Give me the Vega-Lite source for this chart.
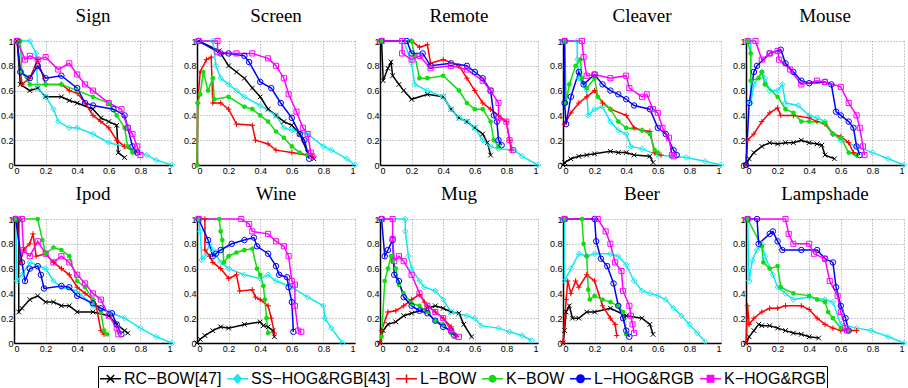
{
"$schema": "https://vega.github.io/schema/vega-lite/v6.json",
"padding": {"left": 0, "top": 7, "right": 4, "bottom": 0},
"config": {
  "view": {"stroke": null},
  "font": "Liberation Sans",
  "axis": {"grid": true, "gridDash": [1, 2], "gridColor": "#999", "domainColor": "black", "domainWidth": 1.5, "ticks": false, "labelFont": "Liberation Sans", "labelFontSize": 9, "labelColor": "black", "labelPadding": 1, "title": null, "values": [0, 0.2, 0.4, 0.6, 0.8, 1], "labelExpr": "'' + datum.value"},
  "header": {"labelFont": "Liberation Serif", "labelFontSize": 19, "labelColor": "black", "labelPadding": 10, "title": null}
},
"data": {"values": [
{"p":"Sign","s":"A","r":0.02,"v":1},{"p":"Sign","s":"A","r":0.04,"v":0.65},{"p":"Sign","s":"A","r":0.1,"v":0.6},{"p":"Sign","s":"A","r":0.15,"v":0.62},{"p":"Sign","s":"A","r":0.2,"v":0.55},{"p":"Sign","s":"A","r":0.3,"v":0.55},{"p":"Sign","s":"A","r":0.35,"v":0.52},{"p":"Sign","s":"A","r":0.4,"v":0.5},{"p":"Sign","s":"A","r":0.5,"v":0.45},{"p":"Sign","s":"A","r":0.55,"v":0.38},{"p":"Sign","s":"A","r":0.6,"v":0.35},{"p":"Sign","s":"A","r":0.65,"v":0.32},{"p":"Sign","s":"A","r":0.66,"v":0.1},{"p":"Sign","s":"A","r":0.7,"v":0.06},
{"p":"Sign","s":"B","r":0.01,"v":1},{"p":"Sign","s":"B","r":0.1,"v":1},{"p":"Sign","s":"B","r":0.14,"v":0.9},{"p":"Sign","s":"B","r":0.15,"v":0.62},{"p":"Sign","s":"B","r":0.2,"v":0.55},{"p":"Sign","s":"B","r":0.25,"v":0.45},{"p":"Sign","s":"B","r":0.28,"v":0.35},{"p":"Sign","s":"B","r":0.35,"v":0.3},{"p":"Sign","s":"B","r":0.4,"v":0.3},{"p":"Sign","s":"B","r":0.5,"v":0.25},{"p":"Sign","s":"B","r":0.6,"v":0.18},{"p":"Sign","s":"B","r":0.7,"v":0.15},{"p":"Sign","s":"B","r":0.8,"v":0.1},{"p":"Sign","s":"B","r":0.84,"v":0.08},{"p":"Sign","s":"B","r":0.9,"v":0.04},{"p":"Sign","s":"B","r":1,"v":0},
{"p":"Sign","s":"C","r":0.02,"v":1},{"p":"Sign","s":"C","r":0.05,"v":0.65},{"p":"Sign","s":"C","r":0.1,"v":0.7},{"p":"Sign","s":"C","r":0.15,"v":0.85},{"p":"Sign","s":"C","r":0.2,"v":0.65},{"p":"Sign","s":"C","r":0.3,"v":0.65},{"p":"Sign","s":"C","r":0.35,"v":0.6},{"p":"Sign","s":"C","r":0.4,"v":0.58},{"p":"Sign","s":"C","r":0.45,"v":0.5},{"p":"Sign","s":"C","r":0.5,"v":0.4},{"p":"Sign","s":"C","r":0.55,"v":0.35},{"p":"Sign","s":"C","r":0.6,"v":0.3},{"p":"Sign","s":"C","r":0.65,"v":0.2},{"p":"Sign","s":"C","r":0.7,"v":0.15},{"p":"Sign","s":"C","r":0.77,"v":0.1},
{"p":"Sign","s":"D","r":0.04,"v":1},{"p":"Sign","s":"D","r":0.05,"v":0.75},{"p":"Sign","s":"D","r":0.1,"v":0.65},{"p":"Sign","s":"D","r":0.2,"v":0.65},{"p":"Sign","s":"D","r":0.3,"v":0.65},{"p":"Sign","s":"D","r":0.4,"v":0.6},{"p":"Sign","s":"D","r":0.5,"v":0.55},{"p":"Sign","s":"D","r":0.6,"v":0.5},{"p":"Sign","s":"D","r":0.65,"v":0.4},{"p":"Sign","s":"D","r":0.7,"v":0.3},{"p":"Sign","s":"D","r":0.72,"v":0.15},{"p":"Sign","s":"D","r":0.75,"v":0.1},
{"p":"Sign","s":"E","r":0.02,"v":1},{"p":"Sign","s":"E","r":0.04,"v":0.75},{"p":"Sign","s":"E","r":0.1,"v":0.7},{"p":"Sign","s":"E","r":0.15,"v":0.8},{"p":"Sign","s":"E","r":0.2,"v":0.7},{"p":"Sign","s":"E","r":0.3,"v":0.72},{"p":"Sign","s":"E","r":0.4,"v":0.62},{"p":"Sign","s":"E","r":0.45,"v":0.5},{"p":"Sign","s":"E","r":0.5,"v":0.48},{"p":"Sign","s":"E","r":0.63,"v":0.45},{"p":"Sign","s":"E","r":0.7,"v":0.4},{"p":"Sign","s":"E","r":0.72,"v":0.3},{"p":"Sign","s":"E","r":0.75,"v":0.15},{"p":"Sign","s":"E","r":0.78,"v":0.1},
{"p":"Sign","s":"F","r":0.02,"v":1},{"p":"Sign","s":"F","r":0.07,"v":0.85},{"p":"Sign","s":"F","r":0.1,"v":0.88},{"p":"Sign","s":"F","r":0.15,"v":0.85},{"p":"Sign","s":"F","r":0.2,"v":0.87},{"p":"Sign","s":"F","r":0.28,"v":0.77},{"p":"Sign","s":"F","r":0.35,"v":0.82},{"p":"Sign","s":"F","r":0.4,"v":0.73},{"p":"Sign","s":"F","r":0.45,"v":0.65},{"p":"Sign","s":"F","r":0.5,"v":0.6},{"p":"Sign","s":"F","r":0.6,"v":0.5},{"p":"Sign","s":"F","r":0.68,"v":0.45},{"p":"Sign","s":"F","r":0.72,"v":0.3},{"p":"Sign","s":"F","r":0.75,"v":0.25},{"p":"Sign","s":"F","r":0.78,"v":0.15},{"p":"Sign","s":"F","r":0.8,"v":0.08},

{"p":"Screen","s":"A","r":0.01,"v":1},{"p":"Screen","s":"A","r":0.14,"v":0.92},{"p":"Screen","s":"A","r":0.2,"v":0.8},{"p":"Screen","s":"A","r":0.25,"v":0.75},{"p":"Screen","s":"A","r":0.3,"v":0.7},{"p":"Screen","s":"A","r":0.35,"v":0.62},{"p":"Screen","s":"A","r":0.4,"v":0.55},{"p":"Screen","s":"A","r":0.45,"v":0.45},{"p":"Screen","s":"A","r":0.5,"v":0.4},{"p":"Screen","s":"A","r":0.55,"v":0.35},{"p":"Screen","s":"A","r":0.6,"v":0.32},{"p":"Screen","s":"A","r":0.65,"v":0.25},{"p":"Screen","s":"A","r":0.7,"v":0.1},{"p":"Screen","s":"A","r":0.74,"v":0.05},
{"p":"Screen","s":"B","r":0.01,"v":1},{"p":"Screen","s":"B","r":0.1,"v":1},{"p":"Screen","s":"B","r":0.12,"v":0.8},{"p":"Screen","s":"B","r":0.15,"v":0.7},{"p":"Screen","s":"B","r":0.2,"v":0.65},{"p":"Screen","s":"B","r":0.25,"v":0.6},{"p":"Screen","s":"B","r":0.3,"v":0.55},{"p":"Screen","s":"B","r":0.4,"v":0.48},{"p":"Screen","s":"B","r":0.5,"v":0.4},{"p":"Screen","s":"B","r":0.55,"v":0.3},{"p":"Screen","s":"B","r":0.6,"v":0.28},{"p":"Screen","s":"B","r":0.7,"v":0.25},{"p":"Screen","s":"B","r":0.8,"v":0.15},{"p":"Screen","s":"B","r":0.85,"v":0.12},{"p":"Screen","s":"B","r":0.95,"v":0.05},{"p":"Screen","s":"B","r":1,"v":0},
{"p":"Screen","s":"C","r":0,"v":0},{"p":"Screen","s":"C","r":0.005,"v":0.5},{"p":"Screen","s":"C","r":0.02,"v":0.75},{"p":"Screen","s":"C","r":0.06,"v":0.85},{"p":"Screen","s":"C","r":0.09,"v":0.87},{"p":"Screen","s":"C","r":0.1,"v":0.5},{"p":"Screen","s":"C","r":0.15,"v":0.5},{"p":"Screen","s":"C","r":0.2,"v":0.45},{"p":"Screen","s":"C","r":0.25,"v":0.33},{"p":"Screen","s":"C","r":0.35,"v":0.32},{"p":"Screen","s":"C","r":0.37,"v":0.2},{"p":"Screen","s":"C","r":0.45,"v":0.17},{"p":"Screen","s":"C","r":0.5,"v":0.12},{"p":"Screen","s":"C","r":0.6,"v":0.1},{"p":"Screen","s":"C","r":0.73,"v":0.07},
{"p":"Screen","s":"D","r":0,"v":0},{"p":"Screen","s":"D","r":0.005,"v":0.5},{"p":"Screen","s":"D","r":0.02,"v":0.57},{"p":"Screen","s":"D","r":0.04,"v":0.75},{"p":"Screen","s":"D","r":0.07,"v":0.6},{"p":"Screen","s":"D","r":0.1,"v":0.7},{"p":"Screen","s":"D","r":0.11,"v":0.53},{"p":"Screen","s":"D","r":0.2,"v":0.55},{"p":"Screen","s":"D","r":0.3,"v":0.47},{"p":"Screen","s":"D","r":0.35,"v":0.45},{"p":"Screen","s":"D","r":0.4,"v":0.4},{"p":"Screen","s":"D","r":0.45,"v":0.35},{"p":"Screen","s":"D","r":0.5,"v":0.27},{"p":"Screen","s":"D","r":0.55,"v":0.22},{"p":"Screen","s":"D","r":0.6,"v":0.15},{"p":"Screen","s":"D","r":0.65,"v":0.1},{"p":"Screen","s":"D","r":0.7,"v":0.08},
{"p":"Screen","s":"E","r":0.01,"v":1},{"p":"Screen","s":"E","r":0.15,"v":0.9},{"p":"Screen","s":"E","r":0.2,"v":0.9},{"p":"Screen","s":"E","r":0.3,"v":0.88},{"p":"Screen","s":"E","r":0.33,"v":0.83},{"p":"Screen","s":"E","r":0.4,"v":0.67},{"p":"Screen","s":"E","r":0.47,"v":0.62},{"p":"Screen","s":"E","r":0.53,"v":0.5},{"p":"Screen","s":"E","r":0.6,"v":0.38},{"p":"Screen","s":"E","r":0.65,"v":0.25},{"p":"Screen","s":"E","r":0.68,"v":0.2},{"p":"Screen","s":"E","r":0.71,"v":0.05},
{"p":"Screen","s":"F","r":0.01,"v":1},{"p":"Screen","s":"F","r":0.13,"v":1},{"p":"Screen","s":"F","r":0.13,"v":0.91},{"p":"Screen","s":"F","r":0.25,"v":0.9},{"p":"Screen","s":"F","r":0.35,"v":0.9},{"p":"Screen","s":"F","r":0.45,"v":0.86},{"p":"Screen","s":"F","r":0.5,"v":0.8},{"p":"Screen","s":"F","r":0.55,"v":0.7},{"p":"Screen","s":"F","r":0.58,"v":0.57},{"p":"Screen","s":"F","r":0.63,"v":0.43},{"p":"Screen","s":"F","r":0.67,"v":0.3},{"p":"Screen","s":"F","r":0.7,"v":0.25},{"p":"Screen","s":"F","r":0.72,"v":0.1},{"p":"Screen","s":"F","r":0.73,"v":0.07},

{"p":"Remote","s":"A","r":0.01,"v":1},{"p":"Remote","s":"A","r":0.02,"v":0.68},{"p":"Remote","s":"A","r":0.05,"v":0.78},{"p":"Remote","s":"A","r":0.07,"v":0.83},{"p":"Remote","s":"A","r":0.08,"v":0.72},{"p":"Remote","s":"A","r":0.12,"v":0.65},{"p":"Remote","s":"A","r":0.15,"v":0.6},{"p":"Remote","s":"A","r":0.2,"v":0.53},{"p":"Remote","s":"A","r":0.3,"v":0.57},{"p":"Remote","s":"A","r":0.4,"v":0.55},{"p":"Remote","s":"A","r":0.45,"v":0.45},{"p":"Remote","s":"A","r":0.5,"v":0.38},{"p":"Remote","s":"A","r":0.55,"v":0.35},{"p":"Remote","s":"A","r":0.6,"v":0.3},{"p":"Remote","s":"A","r":0.65,"v":0.25},{"p":"Remote","s":"A","r":0.68,"v":0.18},{"p":"Remote","s":"A","r":0.7,"v":0.08},
{"p":"Remote","s":"B","r":0.01,"v":1},{"p":"Remote","s":"B","r":0.15,"v":1},{"p":"Remote","s":"B","r":0.2,"v":0.82},{"p":"Remote","s":"B","r":0.22,"v":0.65},{"p":"Remote","s":"B","r":0.3,"v":0.6},{"p":"Remote","s":"B","r":0.4,"v":0.55},{"p":"Remote","s":"B","r":0.45,"v":0.45},{"p":"Remote","s":"B","r":0.5,"v":0.38},{"p":"Remote","s":"B","r":0.55,"v":0.35},{"p":"Remote","s":"B","r":0.6,"v":0.3},{"p":"Remote","s":"B","r":0.65,"v":0.2},{"p":"Remote","s":"B","r":0.7,"v":0.15},{"p":"Remote","s":"B","r":0.75,"v":0.13},{"p":"Remote","s":"B","r":0.85,"v":0.12},{"p":"Remote","s":"B","r":0.9,"v":0.07},{"p":"Remote","s":"B","r":1,"v":0},
{"p":"Remote","s":"C","r":0.01,"v":1},{"p":"Remote","s":"C","r":0.2,"v":1},{"p":"Remote","s":"C","r":0.25,"v":0.95},{"p":"Remote","s":"C","r":0.3,"v":0.97},{"p":"Remote","s":"C","r":0.32,"v":0.82},{"p":"Remote","s":"C","r":0.4,"v":0.85},{"p":"Remote","s":"C","r":0.5,"v":0.8},{"p":"Remote","s":"C","r":0.55,"v":0.7},{"p":"Remote","s":"C","r":0.6,"v":0.6},{"p":"Remote","s":"C","r":0.65,"v":0.5},{"p":"Remote","s":"C","r":0.7,"v":0.45},{"p":"Remote","s":"C","r":0.75,"v":0.4},{"p":"Remote","s":"C","r":0.8,"v":0.35},{"p":"Remote","s":"C","r":0.82,"v":0.2},{"p":"Remote","s":"C","r":0.83,"v":0.12},
{"p":"Remote","s":"D","r":0.01,"v":1},{"p":"Remote","s":"D","r":0.2,"v":1},{"p":"Remote","s":"D","r":0.22,"v":0.88},{"p":"Remote","s":"D","r":0.25,"v":0.7},{"p":"Remote","s":"D","r":0.3,"v":0.7},{"p":"Remote","s":"D","r":0.4,"v":0.72},{"p":"Remote","s":"D","r":0.5,"v":0.6},{"p":"Remote","s":"D","r":0.55,"v":0.5},{"p":"Remote","s":"D","r":0.6,"v":0.45},{"p":"Remote","s":"D","r":0.65,"v":0.45},{"p":"Remote","s":"D","r":0.7,"v":0.35},{"p":"Remote","s":"D","r":0.72,"v":0.2},{"p":"Remote","s":"D","r":0.75,"v":0.15},
{"p":"Remote","s":"E","r":0.01,"v":1},{"p":"Remote","s":"E","r":0.17,"v":1},{"p":"Remote","s":"E","r":0.2,"v":0.9},{"p":"Remote","s":"E","r":0.27,"v":0.9},{"p":"Remote","s":"E","r":0.32,"v":0.8},{"p":"Remote","s":"E","r":0.45,"v":0.82},{"p":"Remote","s":"E","r":0.55,"v":0.8},{"p":"Remote","s":"E","r":0.6,"v":0.75},{"p":"Remote","s":"E","r":0.65,"v":0.7},{"p":"Remote","s":"E","r":0.7,"v":0.6},{"p":"Remote","s":"E","r":0.72,"v":0.4},{"p":"Remote","s":"E","r":0.74,"v":0.35},{"p":"Remote","s":"E","r":0.75,"v":0.2},{"p":"Remote","s":"E","r":0.77,"v":0.16},
{"p":"Remote","s":"F","r":0.01,"v":1},{"p":"Remote","s":"F","r":0.14,"v":1},{"p":"Remote","s":"F","r":0.14,"v":0.9},{"p":"Remote","s":"F","r":0.2,"v":0.85},{"p":"Remote","s":"F","r":0.25,"v":0.88},{"p":"Remote","s":"F","r":0.32,"v":0.78},{"p":"Remote","s":"F","r":0.45,"v":0.8},{"p":"Remote","s":"F","r":0.55,"v":0.77},{"p":"Remote","s":"F","r":0.65,"v":0.68},{"p":"Remote","s":"F","r":0.7,"v":0.6},{"p":"Remote","s":"F","r":0.75,"v":0.5},{"p":"Remote","s":"F","r":0.75,"v":0.38},{"p":"Remote","s":"F","r":0.8,"v":0.35},{"p":"Remote","s":"F","r":0.82,"v":0.2},{"p":"Remote","s":"F","r":0.84,"v":0.12},

{"p":"Cleaver","s":"A","r":0,"v":0},{"p":"Cleaver","s":"A","r":0.01,"v":0.02},{"p":"Cleaver","s":"A","r":0.05,"v":0.05},{"p":"Cleaver","s":"A","r":0.1,"v":0.07},{"p":"Cleaver","s":"A","r":0.15,"v":0.08},{"p":"Cleaver","s":"A","r":0.2,"v":0.09},{"p":"Cleaver","s":"A","r":0.3,"v":0.11},{"p":"Cleaver","s":"A","r":0.35,"v":0.1},{"p":"Cleaver","s":"A","r":0.4,"v":0.1},{"p":"Cleaver","s":"A","r":0.45,"v":0.08},{"p":"Cleaver","s":"A","r":0.55,"v":0.07},{"p":"Cleaver","s":"A","r":0.57,"v":0.02},
{"p":"Cleaver","s":"B","r":0.01,"v":1},{"p":"Cleaver","s":"B","r":0.09,"v":1},{"p":"Cleaver","s":"B","r":0.09,"v":0.85},{"p":"Cleaver","s":"B","r":0.1,"v":0.7},{"p":"Cleaver","s":"B","r":0.15,"v":0.6},{"p":"Cleaver","s":"B","r":0.16,"v":0.4},{"p":"Cleaver","s":"B","r":0.2,"v":0.45},{"p":"Cleaver","s":"B","r":0.25,"v":0.47},{"p":"Cleaver","s":"B","r":0.3,"v":0.35},{"p":"Cleaver","s":"B","r":0.35,"v":0.28},{"p":"Cleaver","s":"B","r":0.4,"v":0.25},{"p":"Cleaver","s":"B","r":0.43,"v":0.15},{"p":"Cleaver","s":"B","r":0.5,"v":0.13},{"p":"Cleaver","s":"B","r":0.6,"v":0.08},{"p":"Cleaver","s":"B","r":0.78,"v":0.06},{"p":"Cleaver","s":"B","r":0.9,"v":0.03},{"p":"Cleaver","s":"B","r":1,"v":0},
{"p":"Cleaver","s":"C","r":0.01,"v":0.33},{"p":"Cleaver","s":"C","r":0.05,"v":0.42},{"p":"Cleaver","s":"C","r":0.1,"v":0.5},{"p":"Cleaver","s":"C","r":0.15,"v":0.55},{"p":"Cleaver","s":"C","r":0.2,"v":0.6},{"p":"Cleaver","s":"C","r":0.25,"v":0.5},{"p":"Cleaver","s":"C","r":0.3,"v":0.45},{"p":"Cleaver","s":"C","r":0.4,"v":0.4},{"p":"Cleaver","s":"C","r":0.45,"v":0.3},{"p":"Cleaver","s":"C","r":0.5,"v":0.28},{"p":"Cleaver","s":"C","r":0.55,"v":0.27},{"p":"Cleaver","s":"C","r":0.58,"v":0.1},{"p":"Cleaver","s":"C","r":0.62,"v":0.08},
{"p":"Cleaver","s":"D","r":0.01,"v":1},{"p":"Cleaver","s":"D","r":0.02,"v":0.5},{"p":"Cleaver","s":"D","r":0.04,"v":0.65},{"p":"Cleaver","s":"D","r":0.08,"v":0.8},{"p":"Cleaver","s":"D","r":0.11,"v":0.85},{"p":"Cleaver","s":"D","r":0.12,"v":0.7},{"p":"Cleaver","s":"D","r":0.15,"v":0.62},{"p":"Cleaver","s":"D","r":0.2,"v":0.7},{"p":"Cleaver","s":"D","r":0.22,"v":0.55},{"p":"Cleaver","s":"D","r":0.3,"v":0.45},{"p":"Cleaver","s":"D","r":0.35,"v":0.35},{"p":"Cleaver","s":"D","r":0.4,"v":0.3},{"p":"Cleaver","s":"D","r":0.5,"v":0.28},{"p":"Cleaver","s":"D","r":0.55,"v":0.25},{"p":"Cleaver","s":"D","r":0.58,"v":0.12},{"p":"Cleaver","s":"D","r":0.6,"v":0.1},
{"p":"Cleaver","s":"E","r":0.01,"v":1},{"p":"Cleaver","s":"E","r":0.01,"v":0.5},{"p":"Cleaver","s":"E","r":0.02,"v":0.33},{"p":"Cleaver","s":"E","r":0.05,"v":0.55},{"p":"Cleaver","s":"E","r":0.1,"v":0.75},{"p":"Cleaver","s":"E","r":0.13,"v":0.65},{"p":"Cleaver","s":"E","r":0.2,"v":0.73},{"p":"Cleaver","s":"E","r":0.25,"v":0.65},{"p":"Cleaver","s":"E","r":0.3,"v":0.6},{"p":"Cleaver","s":"E","r":0.35,"v":0.57},{"p":"Cleaver","s":"E","r":0.4,"v":0.53},{"p":"Cleaver","s":"E","r":0.45,"v":0.48},{"p":"Cleaver","s":"E","r":0.55,"v":0.45},{"p":"Cleaver","s":"E","r":0.6,"v":0.3},{"p":"Cleaver","s":"E","r":0.65,"v":0.25},{"p":"Cleaver","s":"E","r":0.7,"v":0.12},{"p":"Cleaver","s":"E","r":0.72,"v":0.08},
{"p":"Cleaver","s":"F","r":0.01,"v":1},{"p":"Cleaver","s":"F","r":0.12,"v":1},{"p":"Cleaver","s":"F","r":0.13,"v":0.87},{"p":"Cleaver","s":"F","r":0.15,"v":0.72},{"p":"Cleaver","s":"F","r":0.2,"v":0.73},{"p":"Cleaver","s":"F","r":0.3,"v":0.7},{"p":"Cleaver","s":"F","r":0.4,"v":0.72},{"p":"Cleaver","s":"F","r":0.42,"v":0.62},{"p":"Cleaver","s":"F","r":0.5,"v":0.55},{"p":"Cleaver","s":"F","r":0.53,"v":0.57},{"p":"Cleaver","s":"F","r":0.57,"v":0.45},{"p":"Cleaver","s":"F","r":0.6,"v":0.42},{"p":"Cleaver","s":"F","r":0.63,"v":0.3},{"p":"Cleaver","s":"F","r":0.67,"v":0.22},{"p":"Cleaver","s":"F","r":0.69,"v":0.08},{"p":"Cleaver","s":"F","r":0.7,"v":0.07},

{"p":"Mouse","s":"A","r":0,"v":0},{"p":"Mouse","s":"A","r":0.02,"v":0.05},{"p":"Mouse","s":"A","r":0.05,"v":0.1},{"p":"Mouse","s":"A","r":0.1,"v":0.15},{"p":"Mouse","s":"A","r":0.15,"v":0.18},{"p":"Mouse","s":"A","r":0.2,"v":0.17},{"p":"Mouse","s":"A","r":0.25,"v":0.18},{"p":"Mouse","s":"A","r":0.3,"v":0.18},{"p":"Mouse","s":"A","r":0.35,"v":0.2},{"p":"Mouse","s":"A","r":0.4,"v":0.18},{"p":"Mouse","s":"A","r":0.45,"v":0.17},{"p":"Mouse","s":"A","r":0.48,"v":0.16},{"p":"Mouse","s":"A","r":0.5,"v":0.08},{"p":"Mouse","s":"A","r":0.56,"v":0.05},
{"p":"Mouse","s":"B","r":0.01,"v":1},{"p":"Mouse","s":"B","r":0.03,"v":1},{"p":"Mouse","s":"B","r":0.03,"v":0.5},{"p":"Mouse","s":"B","r":0.05,"v":0.65},{"p":"Mouse","s":"B","r":0.1,"v":0.75},{"p":"Mouse","s":"B","r":0.12,"v":0.7},{"p":"Mouse","s":"B","r":0.15,"v":0.6},{"p":"Mouse","s":"B","r":0.2,"v":0.6},{"p":"Mouse","s":"B","r":0.23,"v":0.65},{"p":"Mouse","s":"B","r":0.25,"v":0.5},{"p":"Mouse","s":"B","r":0.33,"v":0.48},{"p":"Mouse","s":"B","r":0.4,"v":0.4},{"p":"Mouse","s":"B","r":0.45,"v":0.38},{"p":"Mouse","s":"B","r":0.5,"v":0.35},{"p":"Mouse","s":"B","r":0.55,"v":0.25},{"p":"Mouse","s":"B","r":0.6,"v":0.2},{"p":"Mouse","s":"B","r":0.7,"v":0.15},{"p":"Mouse","s":"B","r":0.8,"v":0.1},{"p":"Mouse","s":"B","r":0.9,"v":0.05},{"p":"Mouse","s":"B","r":1,"v":0},
{"p":"Mouse","s":"C","r":0,"v":0},{"p":"Mouse","s":"C","r":0.01,"v":0.2},{"p":"Mouse","s":"C","r":0.05,"v":0.25},{"p":"Mouse","s":"C","r":0.1,"v":0.35},{"p":"Mouse","s":"C","r":0.15,"v":0.42},{"p":"Mouse","s":"C","r":0.2,"v":0.46},{"p":"Mouse","s":"C","r":0.22,"v":0.4},{"p":"Mouse","s":"C","r":0.3,"v":0.4},{"p":"Mouse","s":"C","r":0.4,"v":0.38},{"p":"Mouse","s":"C","r":0.45,"v":0.35},{"p":"Mouse","s":"C","r":0.5,"v":0.33},{"p":"Mouse","s":"C","r":0.55,"v":0.25},{"p":"Mouse","s":"C","r":0.6,"v":0.23},{"p":"Mouse","s":"C","r":0.65,"v":0.18},{"p":"Mouse","s":"C","r":0.68,"v":0.1},{"p":"Mouse","s":"C","r":0.7,"v":0.08},
{"p":"Mouse","s":"D","r":0.01,"v":1},{"p":"Mouse","s":"D","r":0.03,"v":0.9},{"p":"Mouse","s":"D","r":0.03,"v":0.68},{"p":"Mouse","s":"D","r":0.08,"v":0.7},{"p":"Mouse","s":"D","r":0.1,"v":0.75},{"p":"Mouse","s":"D","r":0.12,"v":0.65},{"p":"Mouse","s":"D","r":0.2,"v":0.55},{"p":"Mouse","s":"D","r":0.25,"v":0.45},{"p":"Mouse","s":"D","r":0.3,"v":0.42},{"p":"Mouse","s":"D","r":0.35,"v":0.35},{"p":"Mouse","s":"D","r":0.4,"v":0.35},{"p":"Mouse","s":"D","r":0.5,"v":0.34},{"p":"Mouse","s":"D","r":0.55,"v":0.25},{"p":"Mouse","s":"D","r":0.6,"v":0.22},{"p":"Mouse","s":"D","r":0.65,"v":0.1},{"p":"Mouse","s":"D","r":0.7,"v":0.08},
{"p":"Mouse","s":"E","r":0,"v":0},{"p":"Mouse","s":"E","r":0.02,"v":0.5},{"p":"Mouse","s":"E","r":0.05,"v":0.75},{"p":"Mouse","s":"E","r":0.07,"v":0.8},{"p":"Mouse","s":"E","r":0.15,"v":0.9},{"p":"Mouse","s":"E","r":0.22,"v":0.93},{"p":"Mouse","s":"E","r":0.25,"v":0.82},{"p":"Mouse","s":"E","r":0.3,"v":0.75},{"p":"Mouse","s":"E","r":0.35,"v":0.68},{"p":"Mouse","s":"E","r":0.4,"v":0.66},{"p":"Mouse","s":"E","r":0.5,"v":0.67},{"p":"Mouse","s":"E","r":0.54,"v":0.65},{"p":"Mouse","s":"E","r":0.57,"v":0.43},{"p":"Mouse","s":"E","r":0.6,"v":0.4},{"p":"Mouse","s":"E","r":0.65,"v":0.35},{"p":"Mouse","s":"E","r":0.68,"v":0.3},{"p":"Mouse","s":"E","r":0.7,"v":0.15},{"p":"Mouse","s":"E","r":0.72,"v":0.08},
{"p":"Mouse","s":"F","r":0.01,"v":1},{"p":"Mouse","s":"F","r":0.06,"v":1},{"p":"Mouse","s":"F","r":0.1,"v":0.85},{"p":"Mouse","s":"F","r":0.15,"v":0.9},{"p":"Mouse","s":"F","r":0.2,"v":0.92},{"p":"Mouse","s":"F","r":0.21,"v":0.85},{"p":"Mouse","s":"F","r":0.28,"v":0.77},{"p":"Mouse","s":"F","r":0.35,"v":0.65},{"p":"Mouse","s":"F","r":0.45,"v":0.68},{"p":"Mouse","s":"F","r":0.5,"v":0.67},{"p":"Mouse","s":"F","r":0.6,"v":0.63},{"p":"Mouse","s":"F","r":0.65,"v":0.5},{"p":"Mouse","s":"F","r":0.7,"v":0.4},{"p":"Mouse","s":"F","r":0.72,"v":0.3},{"p":"Mouse","s":"F","r":0.74,"v":0.15},{"p":"Mouse","s":"F","r":0.75,"v":0.08},

{"p":"Ipod","s":"A","r":0.03,"v":1},{"p":"Ipod","s":"A","r":0.03,"v":0.25},{"p":"Ipod","s":"A","r":0.05,"v":0.28},{"p":"Ipod","s":"A","r":0.1,"v":0.35},{"p":"Ipod","s":"A","r":0.15,"v":0.38},{"p":"Ipod","s":"A","r":0.2,"v":0.33},{"p":"Ipod","s":"A","r":0.25,"v":0.33},{"p":"Ipod","s":"A","r":0.3,"v":0.3},{"p":"Ipod","s":"A","r":0.35,"v":0.3},{"p":"Ipod","s":"A","r":0.4,"v":0.25},{"p":"Ipod","s":"A","r":0.5,"v":0.25},{"p":"Ipod","s":"A","r":0.6,"v":0.22},{"p":"Ipod","s":"A","r":0.65,"v":0.15},{"p":"Ipod","s":"A","r":0.7,"v":0.1},{"p":"Ipod","s":"A","r":0.72,"v":0.08},
{"p":"Ipod","s":"B","r":0.01,"v":1},{"p":"Ipod","s":"B","r":0.02,"v":0.5},{"p":"Ipod","s":"B","r":0.05,"v":0.55},{"p":"Ipod","s":"B","r":0.1,"v":0.65},{"p":"Ipod","s":"B","r":0.2,"v":0.6},{"p":"Ipod","s":"B","r":0.25,"v":0.5},{"p":"Ipod","s":"B","r":0.3,"v":0.45},{"p":"Ipod","s":"B","r":0.4,"v":0.42},{"p":"Ipod","s":"B","r":0.5,"v":0.3},{"p":"Ipod","s":"B","r":0.6,"v":0.25},{"p":"Ipod","s":"B","r":0.7,"v":0.2},{"p":"Ipod","s":"B","r":0.8,"v":0.12},{"p":"Ipod","s":"B","r":0.9,"v":0.05},{"p":"Ipod","s":"B","r":1,"v":0},
{"p":"Ipod","s":"C","r":0.02,"v":1},{"p":"Ipod","s":"C","r":0.04,"v":0.65},{"p":"Ipod","s":"C","r":0.06,"v":0.75},{"p":"Ipod","s":"C","r":0.1,"v":0.8},{"p":"Ipod","s":"C","r":0.12,"v":0.88},{"p":"Ipod","s":"C","r":0.14,"v":0.7},{"p":"Ipod","s":"C","r":0.2,"v":0.72},{"p":"Ipod","s":"C","r":0.25,"v":0.65},{"p":"Ipod","s":"C","r":0.3,"v":0.6},{"p":"Ipod","s":"C","r":0.35,"v":0.55},{"p":"Ipod","s":"C","r":0.4,"v":0.45},{"p":"Ipod","s":"C","r":0.45,"v":0.4},{"p":"Ipod","s":"C","r":0.5,"v":0.35},{"p":"Ipod","s":"C","r":0.52,"v":0.3},{"p":"Ipod","s":"C","r":0.55,"v":0.1},{"p":"Ipod","s":"C","r":0.57,"v":0.07},
{"p":"Ipod","s":"D","r":0.01,"v":1},{"p":"Ipod","s":"D","r":0.15,"v":1},{"p":"Ipod","s":"D","r":0.18,"v":0.83},{"p":"Ipod","s":"D","r":0.2,"v":0.72},{"p":"Ipod","s":"D","r":0.25,"v":0.77},{"p":"Ipod","s":"D","r":0.3,"v":0.75},{"p":"Ipod","s":"D","r":0.35,"v":0.7},{"p":"Ipod","s":"D","r":0.4,"v":0.5},{"p":"Ipod","s":"D","r":0.45,"v":0.45},{"p":"Ipod","s":"D","r":0.5,"v":0.35},{"p":"Ipod","s":"D","r":0.55,"v":0.25},{"p":"Ipod","s":"D","r":0.57,"v":0.1},{"p":"Ipod","s":"D","r":0.59,"v":0.07},
{"p":"Ipod","s":"E","r":0.01,"v":1},{"p":"Ipod","s":"E","r":0.05,"v":0.65},{"p":"Ipod","s":"E","r":0.07,"v":0.5},{"p":"Ipod","s":"E","r":0.1,"v":0.6},{"p":"Ipod","s":"E","r":0.15,"v":0.62},{"p":"Ipod","s":"E","r":0.17,"v":0.55},{"p":"Ipod","s":"E","r":0.19,"v":0.44},{"p":"Ipod","s":"E","r":0.3,"v":0.46},{"p":"Ipod","s":"E","r":0.35,"v":0.45},{"p":"Ipod","s":"E","r":0.4,"v":0.38},{"p":"Ipod","s":"E","r":0.5,"v":0.32},{"p":"Ipod","s":"E","r":0.55,"v":0.28},{"p":"Ipod","s":"E","r":0.62,"v":0.24},{"p":"Ipod","s":"E","r":0.65,"v":0.15},{"p":"Ipod","s":"E","r":0.68,"v":0.07},
{"p":"Ipod","s":"F","r":0.01,"v":1},{"p":"Ipod","s":"F","r":0.05,"v":1},{"p":"Ipod","s":"F","r":0.06,"v":0.75},{"p":"Ipod","s":"F","r":0.1,"v":0.7},{"p":"Ipod","s":"F","r":0.15,"v":0.82},{"p":"Ipod","s":"F","r":0.2,"v":0.72},{"p":"Ipod","s":"F","r":0.25,"v":0.65},{"p":"Ipod","s":"F","r":0.3,"v":0.7},{"p":"Ipod","s":"F","r":0.35,"v":0.65},{"p":"Ipod","s":"F","r":0.4,"v":0.55},{"p":"Ipod","s":"F","r":0.45,"v":0.48},{"p":"Ipod","s":"F","r":0.5,"v":0.4},{"p":"Ipod","s":"F","r":0.55,"v":0.35},{"p":"Ipod","s":"F","r":0.6,"v":0.22},{"p":"Ipod","s":"F","r":0.65,"v":0.12},{"p":"Ipod","s":"F","r":0.66,"v":0.07},

{"p":"Wine","s":"A","r":0,"v":0},{"p":"Wine","s":"A","r":0.02,"v":0.03},{"p":"Wine","s":"A","r":0.05,"v":0.06},{"p":"Wine","s":"A","r":0.1,"v":0.1},{"p":"Wine","s":"A","r":0.15,"v":0.13},{"p":"Wine","s":"A","r":0.2,"v":0.12},{"p":"Wine","s":"A","r":0.3,"v":0.15},{"p":"Wine","s":"A","r":0.4,"v":0.17},{"p":"Wine","s":"A","r":0.42,"v":0.14},{"p":"Wine","s":"A","r":0.45,"v":0.13},{"p":"Wine","s":"A","r":0.48,"v":0.1},{"p":"Wine","s":"A","r":0.49,"v":0.05},
{"p":"Wine","s":"B","r":0.01,"v":1},{"p":"Wine","s":"B","r":0.02,"v":0.9},{"p":"Wine","s":"B","r":0.03,"v":0.67},{"p":"Wine","s":"B","r":0.05,"v":0.7},{"p":"Wine","s":"B","r":0.08,"v":0.8},{"p":"Wine","s":"B","r":0.1,"v":0.75},{"p":"Wine","s":"B","r":0.15,"v":0.65},{"p":"Wine","s":"B","r":0.2,"v":0.6},{"p":"Wine","s":"B","r":0.3,"v":0.55},{"p":"Wine","s":"B","r":0.4,"v":0.52},{"p":"Wine","s":"B","r":0.45,"v":0.55},{"p":"Wine","s":"B","r":0.5,"v":0.5},{"p":"Wine","s":"B","r":0.6,"v":0.45},{"p":"Wine","s":"B","r":0.7,"v":0.37},{"p":"Wine","s":"B","r":0.8,"v":0.3},{"p":"Wine","s":"B","r":0.81,"v":0.2},{"p":"Wine","s":"B","r":0.85,"v":0.12},{"p":"Wine","s":"B","r":0.92,"v":0},
{"p":"Wine","s":"C","r":0.01,"v":1},{"p":"Wine","s":"C","r":0.05,"v":1},{"p":"Wine","s":"C","r":0.05,"v":0.75},{"p":"Wine","s":"C","r":0.08,"v":0.7},{"p":"Wine","s":"C","r":0.1,"v":0.65},{"p":"Wine","s":"C","r":0.15,"v":0.6},{"p":"Wine","s":"C","r":0.2,"v":0.52},{"p":"Wine","s":"C","r":0.25,"v":0.55},{"p":"Wine","s":"C","r":0.27,"v":0.42},{"p":"Wine","s":"C","r":0.35,"v":0.43},{"p":"Wine","s":"C","r":0.37,"v":0.37},{"p":"Wine","s":"C","r":0.4,"v":0.35},{"p":"Wine","s":"C","r":0.45,"v":0.3},{"p":"Wine","s":"C","r":0.47,"v":0.2},{"p":"Wine","s":"C","r":0.49,"v":0.08},
{"p":"Wine","s":"D","r":0.01,"v":1},{"p":"Wine","s":"D","r":0.14,"v":1},{"p":"Wine","s":"D","r":0.15,"v":0.9},{"p":"Wine","s":"D","r":0.16,"v":0.83},{"p":"Wine","s":"D","r":0.17,"v":0.65},{"p":"Wine","s":"D","r":0.2,"v":0.7},{"p":"Wine","s":"D","r":0.25,"v":0.73},{"p":"Wine","s":"D","r":0.3,"v":0.75},{"p":"Wine","s":"D","r":0.35,"v":0.76},{"p":"Wine","s":"D","r":0.38,"v":0.6},{"p":"Wine","s":"D","r":0.4,"v":0.55},{"p":"Wine","s":"D","r":0.42,"v":0.46},{"p":"Wine","s":"D","r":0.43,"v":0.35},{"p":"Wine","s":"D","r":0.44,"v":0.2},{"p":"Wine","s":"D","r":0.45,"v":0.08},
{"p":"Wine","s":"E","r":0.01,"v":1},{"p":"Wine","s":"E","r":0.07,"v":0.83},{"p":"Wine","s":"E","r":0.1,"v":0.7},{"p":"Wine","s":"E","r":0.12,"v":0.72},{"p":"Wine","s":"E","r":0.15,"v":0.75},{"p":"Wine","s":"E","r":0.22,"v":0.8},{"p":"Wine","s":"E","r":0.3,"v":0.83},{"p":"Wine","s":"E","r":0.36,"v":0.85},{"p":"Wine","s":"E","r":0.38,"v":0.78},{"p":"Wine","s":"E","r":0.45,"v":0.72},{"p":"Wine","s":"E","r":0.5,"v":0.62},{"p":"Wine","s":"E","r":0.52,"v":0.55},{"p":"Wine","s":"E","r":0.57,"v":0.53},{"p":"Wine","s":"E","r":0.58,"v":0.45},{"p":"Wine","s":"E","r":0.6,"v":0.33},{"p":"Wine","s":"E","r":0.61,"v":0.09},
{"p":"Wine","s":"F","r":0.01,"v":1},{"p":"Wine","s":"F","r":0.28,"v":1},{"p":"Wine","s":"F","r":0.33,"v":0.96},{"p":"Wine","s":"F","r":0.35,"v":0.9},{"p":"Wine","s":"F","r":0.45,"v":0.88},{"p":"Wine","s":"F","r":0.5,"v":0.82},{"p":"Wine","s":"F","r":0.55,"v":0.78},{"p":"Wine","s":"F","r":0.58,"v":0.7},{"p":"Wine","s":"F","r":0.6,"v":0.5},{"p":"Wine","s":"F","r":0.62,"v":0.47},{"p":"Wine","s":"F","r":0.62,"v":0.3},{"p":"Wine","s":"F","r":0.64,"v":0.1},{"p":"Wine","s":"F","r":0.66,"v":0.09},

{"p":"Mug","s":"A","r":0,"v":0},{"p":"Mug","s":"A","r":0.02,"v":0.1},{"p":"Mug","s":"A","r":0.05,"v":0.15},{"p":"Mug","s":"A","r":0.1,"v":0.17},{"p":"Mug","s":"A","r":0.15,"v":0.22},{"p":"Mug","s":"A","r":0.2,"v":0.24},{"p":"Mug","s":"A","r":0.3,"v":0.28},{"p":"Mug","s":"A","r":0.35,"v":0.3},{"p":"Mug","s":"A","r":0.4,"v":0.28},{"p":"Mug","s":"A","r":0.45,"v":0.25},{"p":"Mug","s":"A","r":0.5,"v":0.24},{"p":"Mug","s":"A","r":0.53,"v":0.15},{"p":"Mug","s":"A","r":0.58,"v":0.05},
{"p":"Mug","s":"B","r":0.01,"v":1},{"p":"Mug","s":"B","r":0.16,"v":1},{"p":"Mug","s":"B","r":0.16,"v":0.9},{"p":"Mug","s":"B","r":0.18,"v":0.7},{"p":"Mug","s":"B","r":0.2,"v":0.6},{"p":"Mug","s":"B","r":0.25,"v":0.5},{"p":"Mug","s":"B","r":0.28,"v":0.45},{"p":"Mug","s":"B","r":0.35,"v":0.42},{"p":"Mug","s":"B","r":0.4,"v":0.35},{"p":"Mug","s":"B","r":0.45,"v":0.25},{"p":"Mug","s":"B","r":0.55,"v":0.22},{"p":"Mug","s":"B","r":0.6,"v":0.2},{"p":"Mug","s":"B","r":0.64,"v":0.14},{"p":"Mug","s":"B","r":0.75,"v":0.12},{"p":"Mug","s":"B","r":0.82,"v":0.09},{"p":"Mug","s":"B","r":0.9,"v":0.06},{"p":"Mug","s":"B","r":0.96,"v":0.02},
{"p":"Mug","s":"C","r":0,"v":0},{"p":"Mug","s":"C","r":0.01,"v":0.1},{"p":"Mug","s":"C","r":0.05,"v":0.25},{"p":"Mug","s":"C","r":0.1,"v":0.26},{"p":"Mug","s":"C","r":0.15,"v":0.3},{"p":"Mug","s":"C","r":0.2,"v":0.35},{"p":"Mug","s":"C","r":0.25,"v":0.39},{"p":"Mug","s":"C","r":0.28,"v":0.33},{"p":"Mug","s":"C","r":0.3,"v":0.3},{"p":"Mug","s":"C","r":0.35,"v":0.25},{"p":"Mug","s":"C","r":0.4,"v":0.2},{"p":"Mug","s":"C","r":0.45,"v":0.13},{"p":"Mug","s":"C","r":0.48,"v":0.05},
{"p":"Mug","s":"D","r":0.01,"v":0.05},{"p":"Mug","s":"D","r":0.03,"v":0.5},{"p":"Mug","s":"D","r":0.05,"v":0.6},{"p":"Mug","s":"D","r":0.07,"v":0.7},{"p":"Mug","s":"D","r":0.08,"v":0.66},{"p":"Mug","s":"D","r":0.1,"v":0.6},{"p":"Mug","s":"D","r":0.12,"v":0.47},{"p":"Mug","s":"D","r":0.15,"v":0.4},{"p":"Mug","s":"D","r":0.2,"v":0.32},{"p":"Mug","s":"D","r":0.25,"v":0.3},{"p":"Mug","s":"D","r":0.3,"v":0.25},{"p":"Mug","s":"D","r":0.35,"v":0.18},{"p":"Mug","s":"D","r":0.4,"v":0.15},{"p":"Mug","s":"D","r":0.45,"v":0.08},
{"p":"Mug","s":"E","r":0.01,"v":1},{"p":"Mug","s":"E","r":0.03,"v":0.7},{"p":"Mug","s":"E","r":0.05,"v":0.75},{"p":"Mug","s":"E","r":0.08,"v":0.83},{"p":"Mug","s":"E","r":0.09,"v":0.55},{"p":"Mug","s":"E","r":0.12,"v":0.5},{"p":"Mug","s":"E","r":0.15,"v":0.37},{"p":"Mug","s":"E","r":0.2,"v":0.3},{"p":"Mug","s":"E","r":0.25,"v":0.26},{"p":"Mug","s":"E","r":0.3,"v":0.24},{"p":"Mug","s":"E","r":0.35,"v":0.18},{"p":"Mug","s":"E","r":0.4,"v":0.13},{"p":"Mug","s":"E","r":0.45,"v":0.1},{"p":"Mug","s":"E","r":0.47,"v":0.06},
{"p":"Mug","s":"F","r":0.01,"v":1},{"p":"Mug","s":"F","r":0.08,"v":1},{"p":"Mug","s":"F","r":0.08,"v":0.84},{"p":"Mug","s":"F","r":0.09,"v":0.66},{"p":"Mug","s":"F","r":0.12,"v":0.7},{"p":"Mug","s":"F","r":0.15,"v":0.66},{"p":"Mug","s":"F","r":0.2,"v":0.55},{"p":"Mug","s":"F","r":0.25,"v":0.4},{"p":"Mug","s":"F","r":0.3,"v":0.3},{"p":"Mug","s":"F","r":0.35,"v":0.25},{"p":"Mug","s":"F","r":0.4,"v":0.2},{"p":"Mug","s":"F","r":0.45,"v":0.1},{"p":"Mug","s":"F","r":0.5,"v":0.05},

{"p":"Beer","s":"A","r":0,"v":0},{"p":"Beer","s":"A","r":0.01,"v":0.1},{"p":"Beer","s":"A","r":0.02,"v":0.25},{"p":"Beer","s":"A","r":0.04,"v":0.3},{"p":"Beer","s":"A","r":0.06,"v":0.2},{"p":"Beer","s":"A","r":0.1,"v":0.2},{"p":"Beer","s":"A","r":0.15,"v":0.25},{"p":"Beer","s":"A","r":0.2,"v":0.25},{"p":"Beer","s":"A","r":0.3,"v":0.28},{"p":"Beer","s":"A","r":0.4,"v":0.22},{"p":"Beer","s":"A","r":0.5,"v":0.2},{"p":"Beer","s":"A","r":0.55,"v":0.15},{"p":"Beer","s":"A","r":0.57,"v":0.07},
{"p":"Beer","s":"B","r":0.01,"v":1},{"p":"Beer","s":"B","r":0.01,"v":0.5},{"p":"Beer","s":"B","r":0.05,"v":0.6},{"p":"Beer","s":"B","r":0.1,"v":0.72},{"p":"Beer","s":"B","r":0.15,"v":0.7},{"p":"Beer","s":"B","r":0.2,"v":0.72},{"p":"Beer","s":"B","r":0.3,"v":0.72},{"p":"Beer","s":"B","r":0.35,"v":0.7},{"p":"Beer","s":"B","r":0.4,"v":0.63},{"p":"Beer","s":"B","r":0.45,"v":0.5},{"p":"Beer","s":"B","r":0.5,"v":0.42},{"p":"Beer","s":"B","r":0.55,"v":0.4},{"p":"Beer","s":"B","r":0.6,"v":0.38},{"p":"Beer","s":"B","r":0.65,"v":0.35},{"p":"Beer","s":"B","r":0.7,"v":0.28},{"p":"Beer","s":"B","r":0.75,"v":0.22},{"p":"Beer","s":"B","r":0.8,"v":0.15},{"p":"Beer","s":"B","r":0.85,"v":0.08},{"p":"Beer","s":"B","r":0.9,"v":0.01},
{"p":"Beer","s":"C","r":0,"v":0},{"p":"Beer","s":"C","r":0.02,"v":0.35},{"p":"Beer","s":"C","r":0.03,"v":0.5},{"p":"Beer","s":"C","r":0.05,"v":0.4},{"p":"Beer","s":"C","r":0.08,"v":0.5},{"p":"Beer","s":"C","r":0.1,"v":0.45},{"p":"Beer","s":"C","r":0.15,"v":0.55},{"p":"Beer","s":"C","r":0.2,"v":0.5},{"p":"Beer","s":"C","r":0.25,"v":0.3},{"p":"Beer","s":"C","r":0.3,"v":0.2},{"p":"Beer","s":"C","r":0.33,"v":0.15},{"p":"Beer","s":"C","r":0.34,"v":0.06},
{"p":"Beer","s":"D","r":0.01,"v":1},{"p":"Beer","s":"D","r":0.12,"v":1},{"p":"Beer","s":"D","r":0.13,"v":0.8},{"p":"Beer","s":"D","r":0.15,"v":0.7},{"p":"Beer","s":"D","r":0.16,"v":0.43},{"p":"Beer","s":"D","r":0.17,"v":0.35},{"p":"Beer","s":"D","r":0.2,"v":0.38},{"p":"Beer","s":"D","r":0.25,"v":0.35},{"p":"Beer","s":"D","r":0.3,"v":0.33},{"p":"Beer","s":"D","r":0.35,"v":0.3},{"p":"Beer","s":"D","r":0.38,"v":0.25},{"p":"Beer","s":"D","r":0.4,"v":0.07},
{"p":"Beer","s":"E","r":0.01,"v":1},{"p":"Beer","s":"E","r":0.2,"v":1},{"p":"Beer","s":"E","r":0.21,"v":0.82},{"p":"Beer","s":"E","r":0.24,"v":0.68},{"p":"Beer","s":"E","r":0.28,"v":0.62},{"p":"Beer","s":"E","r":0.32,"v":0.48},{"p":"Beer","s":"E","r":0.35,"v":0.3},{"p":"Beer","s":"E","r":0.38,"v":0.2},{"p":"Beer","s":"E","r":0.4,"v":0.1},{"p":"Beer","s":"E","r":0.42,"v":0.05},
{"p":"Beer","s":"F","r":0.01,"v":1},{"p":"Beer","s":"F","r":0.22,"v":1},{"p":"Beer","s":"F","r":0.27,"v":0.9},{"p":"Beer","s":"F","r":0.3,"v":0.8},{"p":"Beer","s":"F","r":0.33,"v":0.65},{"p":"Beer","s":"F","r":0.37,"v":0.58},{"p":"Beer","s":"F","r":0.38,"v":0.42},{"p":"Beer","s":"F","r":0.42,"v":0.3},{"p":"Beer","s":"F","r":0.43,"v":0.22},{"p":"Beer","s":"F","r":0.44,"v":0.15},{"p":"Beer","s":"F","r":0.45,"v":0.08},

{"p":"Lampshade","s":"A","r":0,"v":0},{"p":"Lampshade","s":"A","r":0.02,"v":0.05},{"p":"Lampshade","s":"A","r":0.05,"v":0.1},{"p":"Lampshade","s":"A","r":0.08,"v":0.15},{"p":"Lampshade","s":"A","r":0.1,"v":0.14},{"p":"Lampshade","s":"A","r":0.15,"v":0.14},{"p":"Lampshade","s":"A","r":0.2,"v":0.12},{"p":"Lampshade","s":"A","r":0.25,"v":0.1},{"p":"Lampshade","s":"A","r":0.3,"v":0.08},{"p":"Lampshade","s":"A","r":0.35,"v":0.07},{"p":"Lampshade","s":"A","r":0.4,"v":0.05},{"p":"Lampshade","s":"A","r":0.46,"v":0.04},
{"p":"Lampshade","s":"B","r":0.01,"v":1},{"p":"Lampshade","s":"B","r":0.02,"v":0.5},{"p":"Lampshade","s":"B","r":0.04,"v":0.67},{"p":"Lampshade","s":"B","r":0.07,"v":0.75},{"p":"Lampshade","s":"B","r":0.1,"v":0.8},{"p":"Lampshade","s":"B","r":0.12,"v":0.7},{"p":"Lampshade","s":"B","r":0.17,"v":0.55},{"p":"Lampshade","s":"B","r":0.2,"v":0.45},{"p":"Lampshade","s":"B","r":0.25,"v":0.4},{"p":"Lampshade","s":"B","r":0.3,"v":0.35},{"p":"Lampshade","s":"B","r":0.4,"v":0.37},{"p":"Lampshade","s":"B","r":0.5,"v":0.35},{"p":"Lampshade","s":"B","r":0.55,"v":0.33},{"p":"Lampshade","s":"B","r":0.6,"v":0.15},{"p":"Lampshade","s":"B","r":0.7,"v":0.12},{"p":"Lampshade","s":"B","r":0.79,"v":0.1},{"p":"Lampshade","s":"B","r":0.9,"v":0.05},{"p":"Lampshade","s":"B","r":1,"v":0},
{"p":"Lampshade","s":"C","r":0,"v":0},{"p":"Lampshade","s":"C","r":0.01,"v":0.3},{"p":"Lampshade","s":"C","r":0.02,"v":0.15},{"p":"Lampshade","s":"C","r":0.05,"v":0.2},{"p":"Lampshade","s":"C","r":0.1,"v":0.25},{"p":"Lampshade","s":"C","r":0.15,"v":0.28},{"p":"Lampshade","s":"C","r":0.2,"v":0.28},{"p":"Lampshade","s":"C","r":0.25,"v":0.3},{"p":"Lampshade","s":"C","r":0.35,"v":0.3},{"p":"Lampshade","s":"C","r":0.4,"v":0.27},{"p":"Lampshade","s":"C","r":0.45,"v":0.2},{"p":"Lampshade","s":"C","r":0.5,"v":0.15},{"p":"Lampshade","s":"C","r":0.55,"v":0.12},{"p":"Lampshade","s":"C","r":0.6,"v":0.1},{"p":"Lampshade","s":"C","r":0.7,"v":0.1},
{"p":"Lampshade","s":"D","r":0.01,"v":1},{"p":"Lampshade","s":"D","r":0.1,"v":0.78},{"p":"Lampshade","s":"D","r":0.11,"v":0.65},{"p":"Lampshade","s":"D","r":0.15,"v":0.6},{"p":"Lampshade","s":"D","r":0.2,"v":0.62},{"p":"Lampshade","s":"D","r":0.22,"v":0.45},{"p":"Lampshade","s":"D","r":0.3,"v":0.4},{"p":"Lampshade","s":"D","r":0.4,"v":0.38},{"p":"Lampshade","s":"D","r":0.45,"v":0.35},{"p":"Lampshade","s":"D","r":0.5,"v":0.33},{"p":"Lampshade","s":"D","r":0.52,"v":0.25},{"p":"Lampshade","s":"D","r":0.55,"v":0.2},{"p":"Lampshade","s":"D","r":0.6,"v":0.12},{"p":"Lampshade","s":"D","r":0.65,"v":0.1},
{"p":"Lampshade","s":"E","r":0.01,"v":1},{"p":"Lampshade","s":"E","r":0.07,"v":1},{"p":"Lampshade","s":"E","r":0.08,"v":0.8},{"p":"Lampshade","s":"E","r":0.15,"v":0.88},{"p":"Lampshade","s":"E","r":0.17,"v":0.9},{"p":"Lampshade","s":"E","r":0.2,"v":0.82},{"p":"Lampshade","s":"E","r":0.23,"v":0.75},{"p":"Lampshade","s":"E","r":0.35,"v":0.75},{"p":"Lampshade","s":"E","r":0.45,"v":0.75},{"p":"Lampshade","s":"E","r":0.5,"v":0.68},{"p":"Lampshade","s":"E","r":0.55,"v":0.65},{"p":"Lampshade","s":"E","r":0.57,"v":0.45},{"p":"Lampshade","s":"E","r":0.6,"v":0.3},{"p":"Lampshade","s":"E","r":0.63,"v":0.2},{"p":"Lampshade","s":"E","r":0.65,"v":0.1},
{"p":"Lampshade","s":"F","r":0.01,"v":1},{"p":"Lampshade","s":"F","r":0.25,"v":1},{"p":"Lampshade","s":"F","r":0.27,"v":0.88},{"p":"Lampshade","s":"F","r":0.3,"v":0.8},{"p":"Lampshade","s":"F","r":0.4,"v":0.8},{"p":"Lampshade","s":"F","r":0.43,"v":0.72},{"p":"Lampshade","s":"F","r":0.5,"v":0.68},{"p":"Lampshade","s":"F","r":0.53,"v":0.5},{"p":"Lampshade","s":"F","r":0.58,"v":0.38},{"p":"Lampshade","s":"F","r":0.6,"v":0.25},{"p":"Lampshade","s":"F","r":0.63,"v":0.12},{"p":"Lampshade","s":"F","r":0.64,"v":0.1}
]},
"facet": {"field": "p", "type": "nominal", "sort": ["Sign", "Screen", "Remote", "Cleaver", "Mouse", "Ipod", "Wine", "Mug", "Beer", "Lampshade"], "title": null},
"columns": 5,
"bounds": "flush",
"spacing": {"column": 25, "row": 54},
"resolve": {"axis": {"x": "independent", "y": "independent"}},
"spec": {
  "width": 158,
  "height": 124,
  "encoding": {
    "x": {"field": "r", "type": "quantitative", "scale": {"domain": [0, 1], "nice": false}},
    "y": {"field": "v", "type": "quantitative", "scale": {"domain": [0, 1], "nice": false}},
    "color": {"field": "s", "type": "nominal", "scale": {"domain": ["A", "B", "C", "D", "E", "F"], "range": ["#000000", "#10e8f0", "#ff0000", "#10dd10", "#0000ff", "#ff00ff"]},
      "legend": {"title": null, "orient": "none", "legendX": 84, "legendY": 325, "direction": "horizontal", "columns": 6, "strokeColor": "black", "padding": 1, "labelFont": "Liberation Sans", "labelFontSize": 16, "labelColor": "black", "symbolSize": 441, "symbolStrokeWidth": 1.5, "labelOffset": 2, "columnPadding": 2,
        "labelExpr": "{'A':'RC−BOW[47]','B':'SS−HOG&RGB[43]','C':'L−BOW','D':'K−BOW','E':'L−HOG&RGB','F':'K−HOG&RGB'}[datum.value]",
        "encode": {"symbols": {"update": {
          "shape": {"signal": "{'A':'M-1,0H1M-0.35,-0.35L0.35,0.35M-0.35,0.35L0.35,-0.35','B':'M-1,0H-0.35M0.35,0H1M0,-0.4L0.35,0L0,0.4L-0.35,0Z','C':'M-1,0H1M0,-0.4V0.4','D':'M-1,0H1M0.3,0A0.3,0.3,0,1,1,-0.3,0A0.3,0.3,0,1,1,0.3,0Z','E':'M-1,0H-0.35M0.35,0H1M0.35,0A0.35,0.35,0,1,1,-0.35,0A0.35,0.35,0,1,1,0.35,0Z','F':'M-1,0H-0.3M0.3,0H1M-0.3,-0.3H0.3V0.3H-0.3Z'}[datum.value]"},
          "fill": {"signal": "datum.value === 'D' ? '#10dd10' : 'transparent'"},
          "strokeWidth": {"value": 1.5},
          "opacity": {"value": 1}
        }}}
      }}
  },
  "layer": [
    {"mark": {"type": "line", "strokeWidth": 1.5}, "encoding": {"order": {"value": null}}},
    {"transform": [{"filter": "datum.s === 'A'"}], "mark": {"type": "point", "shape": "M-1,-1L1,1M-1,1L1,-1", "filled": false, "strokeWidth": 1, "size": 22, "opacity": 1}},
    {"transform": [{"filter": "datum.s === 'B'"}], "mark": {"type": "point", "shape": "diamond", "filled": false, "strokeWidth": 1, "size": 30, "opacity": 1}},
    {"transform": [{"filter": "datum.s === 'C'"}], "mark": {"type": "point", "shape": "M-1,0H1M0,-1V1", "filled": false, "strokeWidth": 1, "size": 30, "opacity": 1}},
    {"transform": [{"filter": "datum.s === 'D'"}], "mark": {"type": "point", "shape": "circle", "filled": true, "size": 22, "opacity": 1}},
    {"transform": [{"filter": "datum.s === 'E'"}], "mark": {"type": "point", "shape": "circle", "filled": false, "strokeWidth": 1, "size": 30, "opacity": 1}},
    {"transform": [{"filter": "datum.s === 'F'"}], "mark": {"type": "point", "shape": "square", "filled": false, "strokeWidth": 1, "size": 26, "opacity": 1}}
  ]
}
}
